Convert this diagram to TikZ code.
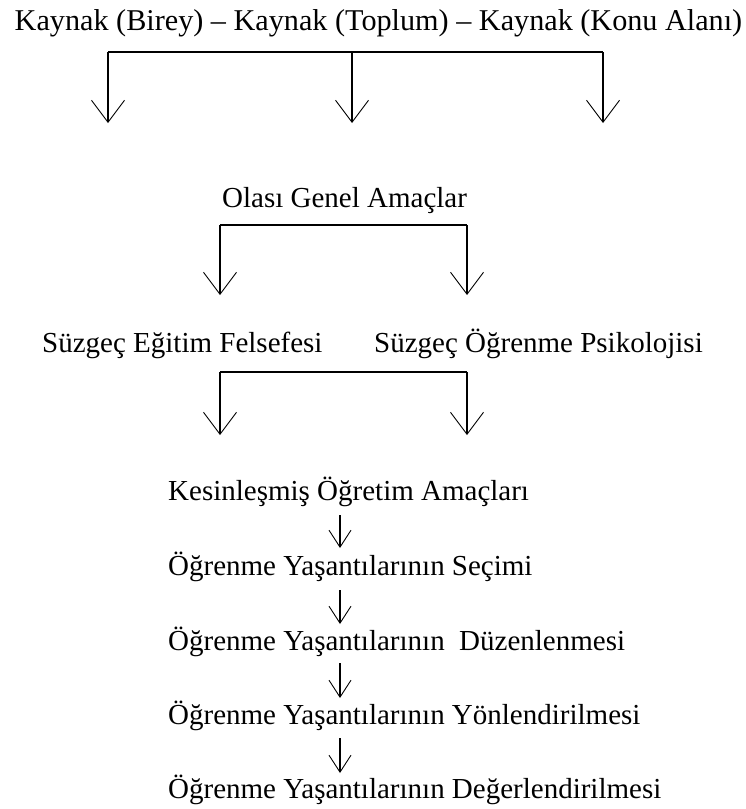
\documentclass[tikz,border=0pt]{standalone}
\usepackage{fontspec}
\setmainfont{Liberation Serif}
\usetikzlibrary{arrows.meta}
\begin{document}
\begin{tikzpicture}[x=1pt,y=-1pt,
  lbl/.style={inner sep=0pt, font=\fontsize{29}{34}\selectfont},
  toplbl/.style={inner sep=0pt, font=\fontsize{30.2}{36}\selectfont},
  conn/.style={line width=1.1pt},
  bigarrow/.style={line width=1.1pt, -{Straight Barb[length=22pt,width=33pt,line width=0.9pt]}},
  smallarrow/.style={line width=1.1pt, -{Straight Barb[length=17pt,width=22pt,line width=0.9pt]}}]
\useasboundingbox (0,0) rectangle (746,809);

% texts
\node[toplbl, anchor=base] (src) at (378.5,30) {Kaynak (Birey) – Kaynak (Toplum) – Kaynak (Konu Alanı)};
\node[lbl, anchor=base west] (olasi) at (222,207) {Olası Genel Amaçlar};
\node[lbl, anchor=base west] (felsefe) at (42,352) {Süzgeç Eğitim Felsefesi};
\node[lbl, anchor=base east] (psiko) at (703,352) {Süzgeç Öğrenme Psikolojisi};
\node[lbl, anchor=base west] (k1) at (168,500) {Kesinleşmiş Öğretim Amaçları};
\node[lbl, anchor=base west] (k2) at (168,575) {Öğrenme Yaşantılarının Seçimi};
\node[lbl, anchor=base west] (k3) at (168,650) {Öğrenme Yaşantılarının\ \ Düzenlenmesi};
\node[lbl, anchor=base west] (k4) at (168,724) {Öğrenme Yaşantılarının Yönlendirilmesi};
\node[lbl, anchor=base west] (k5) at (168,798) {Öğrenme Yaşantılarının Değerlendirilmesi};

% bracket 1
\coordinate (b1l) at (108,52);
\coordinate (b1m) at (352,52);
\coordinate (b1r) at (603,52);
\coordinate (t1l) at (108,123);
\coordinate (t1m) at (352,123);
\coordinate (t1r) at (603,123);
\draw[conn] (b1l) -- (b1r);
\draw[bigarrow] (b1l) -- (t1l);
\draw[bigarrow] (b1m) -- (t1m);
\draw[bigarrow] (b1r) -- (t1r);

% bracket 2
\coordinate (b2l) at (220,225);
\coordinate (b2r) at (467,225);
\coordinate (t2l) at (220,295);
\coordinate (t2r) at (467,295);
\draw[conn] (b2l) -- (b2r);
\draw[bigarrow] (b2l) -- (t2l);
\draw[bigarrow] (b2r) -- (t2r);

% bracket 3
\coordinate (b3l) at (220,372);
\coordinate (b3r) at (467,372);
\coordinate (t3l) at (220,435);
\coordinate (t3r) at (467,435);
\draw[conn] (b3l) -- (b3r);
\draw[bigarrow] (b3l) -- (t3l);
\draw[bigarrow] (b3r) -- (t3r);

% small arrows
\coordinate (s1) at (340,515); \coordinate (e1) at (340,548);
\coordinate (s2) at (340,590); \coordinate (e2) at (340,624);
\coordinate (s3) at (340,663); \coordinate (e3) at (340,698);
\coordinate (s4) at (340,738); \coordinate (e4) at (340,773);
\draw[smallarrow] (s1) -- (e1);
\draw[smallarrow] (s2) -- (e2);
\draw[smallarrow] (s3) -- (e3);
\draw[smallarrow] (s4) -- (e4);
\end{tikzpicture}
\end{document}
